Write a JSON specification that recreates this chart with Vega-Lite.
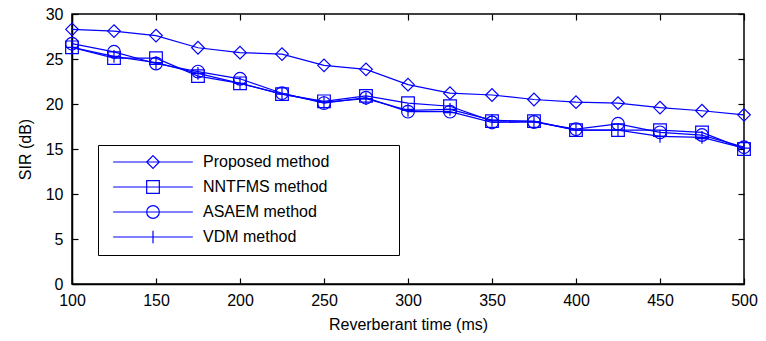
{
  "$schema": "https://vega.github.io/schema/vega-lite/v6.json",
  "width": 672,
  "height": 270,
  "autosize": {"type": "none"},
  "padding": {"left": 72, "top": 14, "right": 22, "bottom": 57},
  "background": "white",
  "config": {
    "font": "Liberation Sans",
    "view": {"stroke": "black", "strokeWidth": 1.5},
    "axis": {
      "grid": false,
      "labelFlush": false,
      "labelOverlap": false,
      "domainColor": "black",
      "domainWidth": 1.5,
      "tickColor": "black",
      "tickWidth": 1.2,
      "tickSize": -6,
      "labelColor": "black",
      "labelFont": "Liberation Sans",
      "labelFontSize": 16,
      "titleFont": "Liberation Sans",
      "titleFontSize": 16,
      "titleFontWeight": "normal",
      "titleColor": "black"
    }
  },
  "data": {
    "values": [
      {"t": 100, "m": "Proposed method", "v": 28.3},
      {"t": 125, "m": "Proposed method", "v": 28.1},
      {"t": 150, "m": "Proposed method", "v": 27.6},
      {"t": 175, "m": "Proposed method", "v": 26.25},
      {"t": 200, "m": "Proposed method", "v": 25.7},
      {"t": 225, "m": "Proposed method", "v": 25.55},
      {"t": 250, "m": "Proposed method", "v": 24.3},
      {"t": 275, "m": "Proposed method", "v": 23.85},
      {"t": 300, "m": "Proposed method", "v": 22.15},
      {"t": 325, "m": "Proposed method", "v": 21.2},
      {"t": 350, "m": "Proposed method", "v": 21.0},
      {"t": 375, "m": "Proposed method", "v": 20.5},
      {"t": 400, "m": "Proposed method", "v": 20.2},
      {"t": 425, "m": "Proposed method", "v": 20.1},
      {"t": 450, "m": "Proposed method", "v": 19.6},
      {"t": 475, "m": "Proposed method", "v": 19.25},
      {"t": 500, "m": "Proposed method", "v": 18.8},
      {"t": 100, "m": "NNTFMS method", "v": 26.3},
      {"t": 125, "m": "NNTFMS method", "v": 25.1},
      {"t": 150, "m": "NNTFMS method", "v": 25.1},
      {"t": 175, "m": "NNTFMS method", "v": 23.1},
      {"t": 200, "m": "NNTFMS method", "v": 22.3},
      {"t": 225, "m": "NNTFMS method", "v": 21.1},
      {"t": 250, "m": "NNTFMS method", "v": 20.3},
      {"t": 275, "m": "NNTFMS method", "v": 20.9},
      {"t": 300, "m": "NNTFMS method", "v": 20.1},
      {"t": 325, "m": "NNTFMS method", "v": 19.75},
      {"t": 350, "m": "NNTFMS method", "v": 18.1},
      {"t": 375, "m": "NNTFMS method", "v": 18.1},
      {"t": 400, "m": "NNTFMS method", "v": 17.1},
      {"t": 425, "m": "NNTFMS method", "v": 17.1},
      {"t": 450, "m": "NNTFMS method", "v": 17.1},
      {"t": 475, "m": "NNTFMS method", "v": 16.85},
      {"t": 500, "m": "NNTFMS method", "v": 15.0},
      {"t": 100, "m": "ASAEM method", "v": 26.7},
      {"t": 125, "m": "ASAEM method", "v": 25.8},
      {"t": 150, "m": "ASAEM method", "v": 24.5},
      {"t": 175, "m": "ASAEM method", "v": 23.6},
      {"t": 200, "m": "ASAEM method", "v": 22.8},
      {"t": 225, "m": "ASAEM method", "v": 21.2},
      {"t": 250, "m": "ASAEM method", "v": 20.1},
      {"t": 275, "m": "ASAEM method", "v": 20.7},
      {"t": 300, "m": "ASAEM method", "v": 19.15},
      {"t": 325, "m": "ASAEM method", "v": 19.15},
      {"t": 350, "m": "ASAEM method", "v": 17.95},
      {"t": 375, "m": "ASAEM method", "v": 18.0},
      {"t": 400, "m": "ASAEM method", "v": 17.2},
      {"t": 425, "m": "ASAEM method", "v": 17.8},
      {"t": 450, "m": "ASAEM method", "v": 16.85},
      {"t": 475, "m": "ASAEM method", "v": 16.55},
      {"t": 500, "m": "ASAEM method", "v": 15.2},
      {"t": 100, "m": "VDM method", "v": 26.3},
      {"t": 125, "m": "VDM method", "v": 25.3},
      {"t": 150, "m": "VDM method", "v": 24.6},
      {"t": 175, "m": "VDM method", "v": 23.4},
      {"t": 200, "m": "VDM method", "v": 22.3},
      {"t": 225, "m": "VDM method", "v": 21.1},
      {"t": 250, "m": "VDM method", "v": 20.2},
      {"t": 275, "m": "VDM method", "v": 20.6},
      {"t": 300, "m": "VDM method", "v": 19.3},
      {"t": 325, "m": "VDM method", "v": 19.4},
      {"t": 350, "m": "VDM method", "v": 18.2},
      {"t": 375, "m": "VDM method", "v": 18.05},
      {"t": 400, "m": "VDM method", "v": 17.1},
      {"t": 425, "m": "VDM method", "v": 17.1},
      {"t": 450, "m": "VDM method", "v": 16.4},
      {"t": 475, "m": "VDM method", "v": 16.3},
      {"t": 500, "m": "VDM method", "v": 15.1}
    ]
  },
  "layer": [
    {
      "layer": [
        {
          "mark": {"type": "line", "color": "#0000ff", "strokeWidth": 1.2, "clip": true},
          "encoding": {
            "x": {"field": "t", "type": "quantitative", "scale": {"domain": [100, 500], "nice": false},
                  "axis": {"values": [100, 150, 200, 250, 300, 350, 400, 450, 500], "title": "Reverberant time (ms)", "labelPadding": 14, "titlePadding": 8}},
            "y": {"field": "v", "type": "quantitative", "scale": {"domain": [0, 30], "nice": false},
                  "axis": {"values": [0, 5, 10, 15, 20, 25, 30], "title": "SIR (dB)", "labelPadding": 15, "titlePadding": 12}},
            "detail": {"field": "m"}
          }
        },
        {
          "mark": {"type": "point", "filled": false, "color": "#0000ff", "strokeWidth": 1.2, "size": 160, "opacity": 1},
          "encoding": {
            "x": {"field": "t", "type": "quantitative"},
            "y": {"field": "v", "type": "quantitative"},
            "shape": {
              "field": "m",
              "type": "nominal",
              "scale": {
                "domain": ["Proposed method", "NNTFMS method", "ASAEM method", "VDM method", "-"],
                "range": ["diamond", "square", "circle", "M-1,0L1,0M0,-1L0,1", "circle"]
              },
              "legend": null
            }
          }
        },
        {
          "mark": {"type": "point", "filled": false, "color": "#0000ff", "strokeWidth": 1.2, "size": 160, "opacity": 0},
          "encoding": {
            "x": {"field": "t", "type": "quantitative"},
            "y": {"field": "v", "type": "quantitative"},
            "shape": {
              "field": "m",
              "type": "nominal",
              "scale": {
                "domain": ["Proposed method", "NNTFMS method", "ASAEM method", "VDM method"],
                "range": [
                  "M-6.3,0L6.3,0M0,-1L1,0L0,1L-1,0Z",
                  "M-6.3,0L6.3,0M-1,-1L1,-1L1,1L-1,1Z",
                  "M-6.3,0L6.3,0M-1,0A1,1,0,1,1,1,0A1,1,0,1,1,-1,0Z",
                  "M-6.3,0L6.3,0M0,-1L0,1"
                ]
              },
              "legend": {
                "title": null,
                "orient": "none",
                "legendX": 26,
                "legendY": 131,
                "padding": 9,
                "strokeColor": "black",
                "fillColor": "white",
                "symbolSize": 160,
                "symbolOpacity": 1,
                "symbolStrokeColor": "#0000ff",
                "symbolStrokeWidth": 1.2,
                "symbolFillColor": "transparent",
                "symbolOffset": 38,
                "labelOffset": 42,
                "labelFont": "Liberation Sans",
                "labelFontSize": 16,
                "labelColor": "black",
                "labelLimit": 400,
                "rowPadding": 7,
                "labelExpr": "datum.label + '\u2800\u2800\u2800\u2800\u2800'"
              }
            }
          }
        }
      ],
      "resolve": {"scale": {"shape": "independent"}, "legend": {"shape": "independent"}}
    },
    {
      "mark": {"type": "point", "opacity": 0},
      "encoding": {
        "x": {"field": "t", "type": "quantitative", "scale": {"domain": [100, 500], "nice": false},
              "axis": {"orient": "top", "values": [100, 150, 200, 250, 300, 350, 400, 450, 500], "labels": false, "domain": false, "title": null}},
        "y": {"field": "v", "type": "quantitative", "scale": {"domain": [0, 30], "nice": false},
              "axis": {"orient": "right", "values": [0, 5, 10, 15, 20, 25, 30], "labels": false, "domain": false, "title": null}}
      }
    }
  ],
  "resolve": {"scale": {"x": "independent", "y": "independent"}}
}
